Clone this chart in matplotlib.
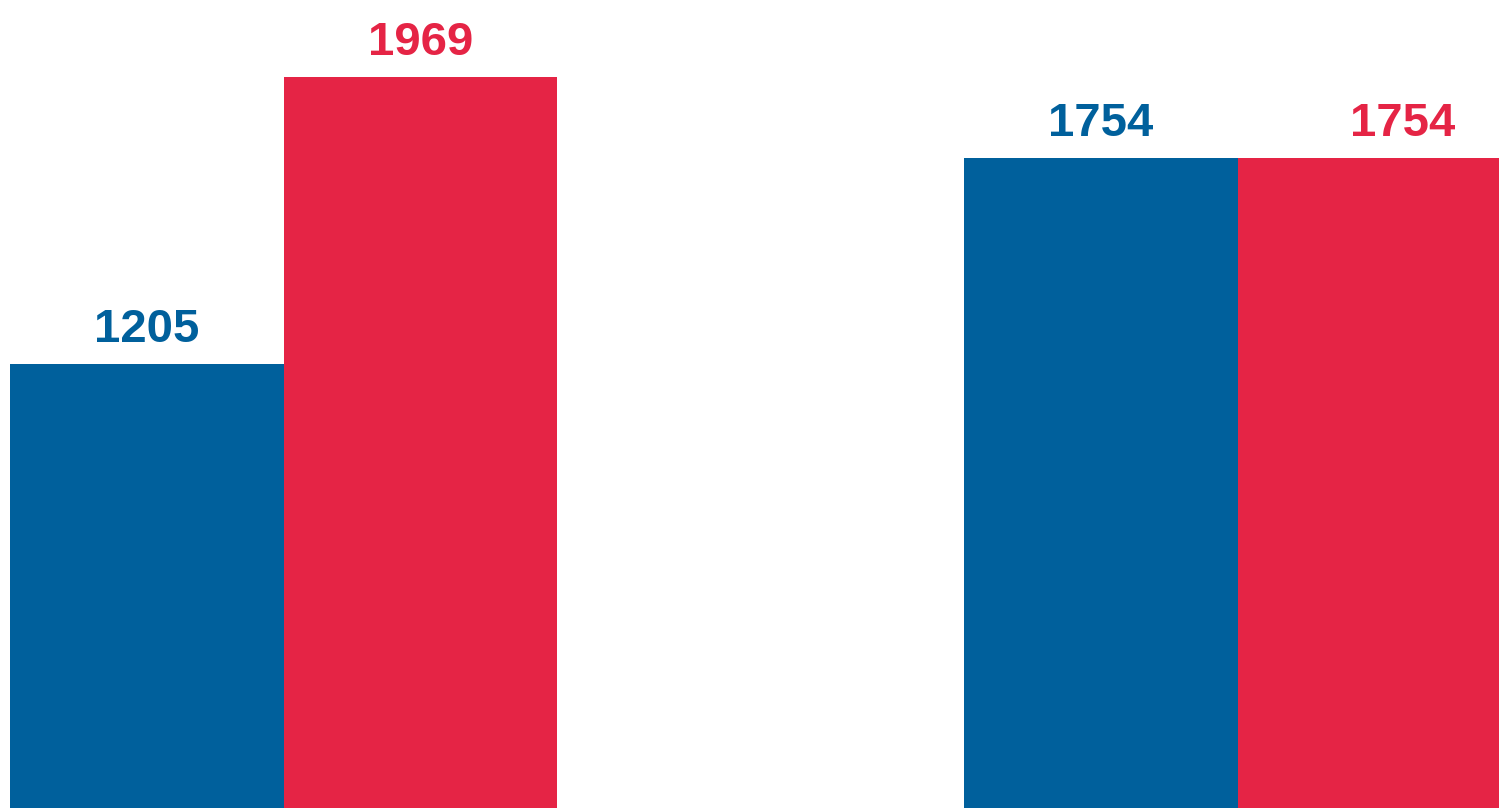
import matplotlib
matplotlib.use("Agg")
import matplotlib.pyplot as plt
import numpy as np

groups = ["A", "B"]
series_blue = [1205, 1754]
series_red = [1969, 1754]
blue = "#00609C"
red = "#E52445"

fig = plt.figure(figsize=(14.99, 8.08), dpi=100)
ax = fig.add_axes([0, 0, 1, 1])
x = np.arange(len(groups))
w = 0.2867
ax.bar(x - w / 2, series_blue, width=w, color=blue, linewidth=0)
ax.bar(x + w / 2, series_red, width=w, color=red, linewidth=0)
ax.set_xlim(-0.2972, 1.2736)
ax.set_ylim(23, 2174)
ax.axis("off")

label_shift = [0.0, 0.029]
for i in range(len(groups)):
    ax.annotate(str(series_blue[i]), (x[i] - w / 2, series_blue[i]), xytext=(0, 16),
                textcoords="offset points", ha="center", va="baseline",
                color=blue, fontsize=34, fontweight="bold", family="Liberation Sans")
    ax.annotate(str(series_red[i]), (x[i] + w / 2 + label_shift[i], series_red[i]), xytext=(0, 16),
                textcoords="offset points", ha="center", va="baseline",
                color=red, fontsize=34, fontweight="bold", family="Liberation Sans")

fig.savefig("out.png", dpi=100)
